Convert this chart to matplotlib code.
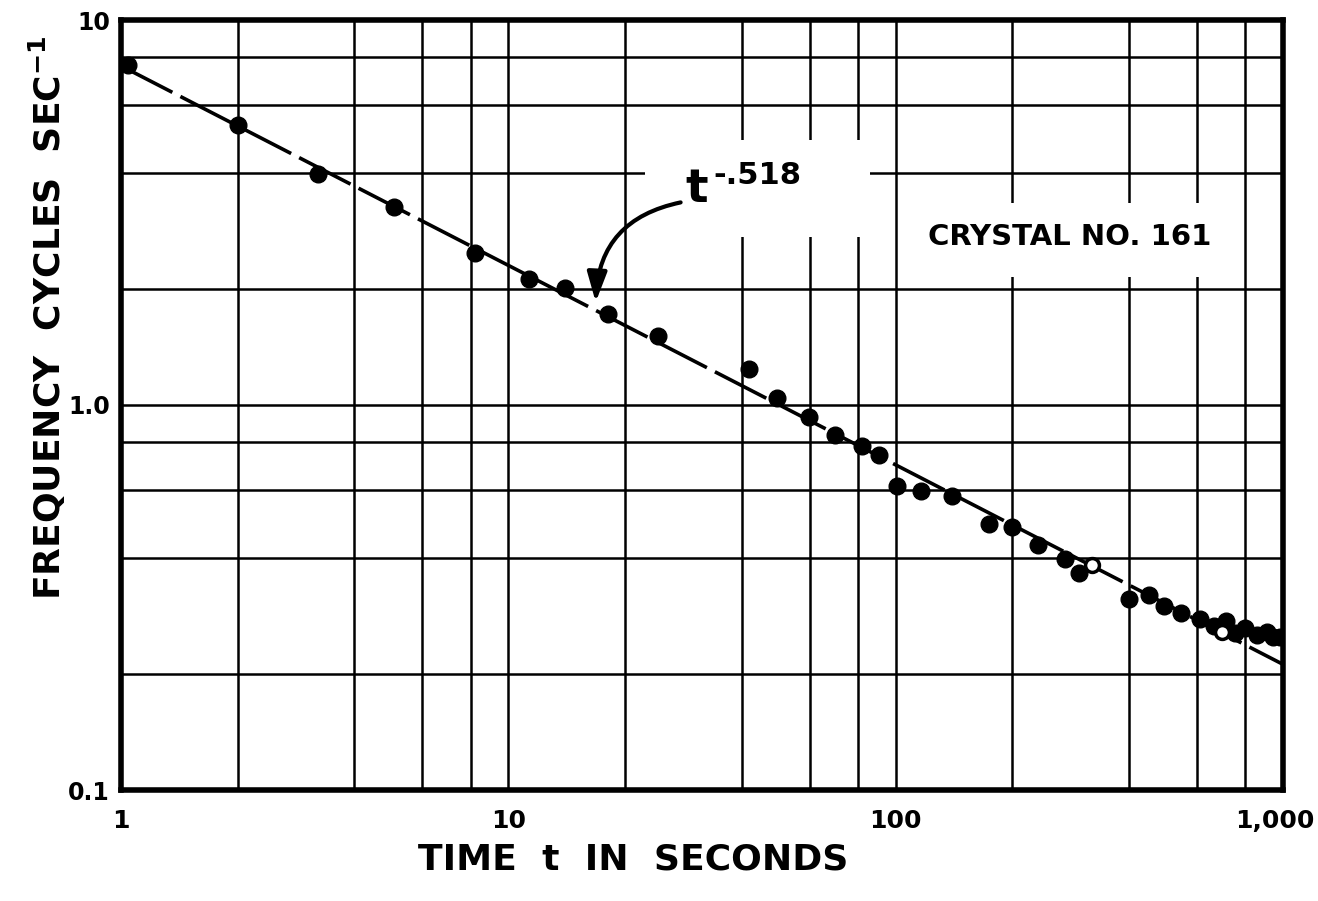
import matplotlib
matplotlib.use("Agg")
import matplotlib.pyplot as plt
from matplotlib.patches import Rectangle
from matplotlib.ticker import FixedLocator, NullFormatter
from matplotlib.transforms import ScaledTranslation

# measured points (time in s, frequency in 1/s)
time_s = [1.04, 2.0, 3.23, 5.06, 8.21, 11.3, 14.0, 18.1, 24.3, 41.9, 49.4,
          59.8, 69.8, 82, 90.8, 101, 116, 139.6, 174, 200, 233, 273, 298,
          400, 451, 494, 546, 612, 663, 714, 752, 798, 857, 909, 943, 985]
freq = [7.63, 5.35, 3.98, 3.27, 2.48, 2.12, 2.01, 1.72, 1.51, 1.24, 1.04,
        0.93, 0.836, 0.784, 0.741, 0.615, 0.599, 0.581, 0.49, 0.481, 0.433,
        0.398, 0.367, 0.313, 0.321, 0.300, 0.289, 0.278, 0.267, 0.275, 0.255,
        0.263, 0.252, 0.257, 0.249, 0.25]
open_time = [321, 697]
open_freq = [0.384, 0.257]

# fitted power law t^-0.518, end points
fit_time = [1, 1000]
fit_freq = [7.6, 0.212]

x_ticks = [1, 10, 100, 1000]
x_labels = ["1", "10", "100", "1,000"]
y_ticks = [0.1, 1.0, 10]
y_labels = ["0.1", "1.0", "10"]

FONT = "DejaVu Sans"
plt.rcParams["font.family"] = FONT
plt.rcParams["font.weight"] = "bold"
plt.rcParams["mathtext.fontset"] = "custom"
plt.rcParams["mathtext.rm"] = FONT + ":bold"
plt.rcParams["mathtext.bf"] = FONT + ":bold"

W, H = 1318, 901


def fx(px):
    return px / W


def fy(py):
    return 1 - py / H


fig = plt.figure(figsize=(13.18, 9.01), dpi=100)
ax = fig.add_axes([fx(121), fy(790), fx(1283) - fx(121), fy(20) - fy(790)])
ax.set_xscale("log")
ax.set_yscale("log")
ax.set_xlim(1, 1000)
ax.set_ylim(0.1, 10)

minor = [m * 10 ** k for k in range(-1, 3) for m in (2, 4, 6, 8)]
ax.xaxis.set_major_locator(FixedLocator(x_ticks))
ax.xaxis.set_minor_locator(FixedLocator(minor))
ax.yaxis.set_major_locator(FixedLocator(y_ticks))
ax.yaxis.set_minor_locator(FixedLocator(minor))
ax.xaxis.set_minor_formatter(NullFormatter())
ax.yaxis.set_minor_formatter(NullFormatter())
ax.set_xticklabels(x_labels)
ax.set_yticklabels(y_labels)
ax.tick_params(which="both", length=0)
ax.tick_params(axis="x", pad=14, labelsize=18)
ax.tick_params(axis="y", pad=8, labelsize=17)
ax.grid(which="both", color="black", linewidth=1.8)
ax.set_axisbelow(True)
for sp in ax.spines.values():
    sp.set_linewidth(4)

# keep "1,000" inside the picture, as in the original lettering
last = ax.get_xticklabels()[-1]
last.set_horizontalalignment("right")
last.set_transform(last.get_transform() +
                   ScaledTranslation(0.31, 0, fig.dpi_scale_trans))

ax.plot(fit_time, fit_freq, color="black", linewidth=2.6,
        dashes=(16, 2.5), zorder=2)
ax.plot(time_s, freq, "o", color="black", markersize=12, zorder=3)
ax.plot(open_time, open_freq, "o", markerfacecolor="white",
        markeredgecolor="black", markeredgewidth=2.5, markersize=10, zorder=3)

# white patches behind the lettering
ax.add_patch(Rectangle((fx(645), fy(237)), fx(870) - fx(645), fy(140) - fy(237),
                       transform=fig.transFigure, facecolor="white",
                       edgecolor="none", zorder=1))
ax.add_patch(Rectangle((fx(912), fy(277)), fx(1228) - fx(912), fy(203) - fy(277),
                       transform=fig.transFigure, facecolor="white",
                       edgecolor="none", zorder=1))

fig.text(fx(697), fy(190), "t", fontsize=34, ha="center", va="center")
fig.text(fx(757), fy(176), "-.518", fontsize=22, ha="center", va="center")
ax.annotate("", xy=(16.8, 1.82), xytext=(28.3, 3.37),
            arrowprops=dict(arrowstyle="-|>,head_length=0.9,head_width=0.3",
                            connectionstyle="arc3,rad=0.4",
                            lw=3, color="black", mutation_scale=20))

fig.text(fx(1070), fy(237), "CRYSTAL NO. 161", fontsize=21,
         ha="center", va="center")

fig.text(fx(633), fy(860), "TIME  t  IN  SECONDS", fontsize=26,
         ha="center", va="center")
fig.text(fx(47), fy(318), r"FREQUENCY  CYCLES  SEC$^{-1}$", fontsize=26,
         rotation=90, ha="center", va="center")

fig.savefig("out.png", dpi=100)
